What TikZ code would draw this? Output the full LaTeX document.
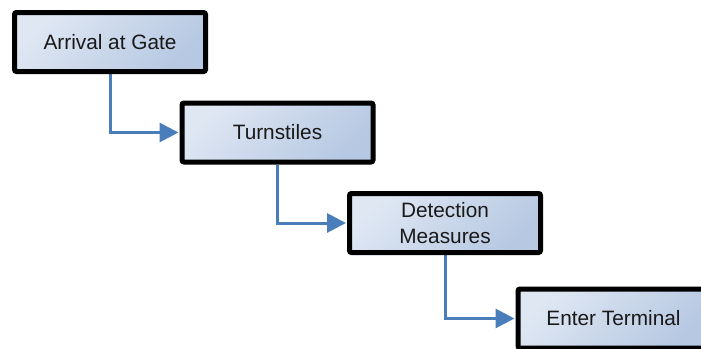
\documentclass[tikz,border=0pt]{standalone}
\usepackage{fontspec}
\setmainfont{Liberation Sans}
\usetikzlibrary{arrows.meta,backgrounds}
\definecolor{boxlight}{HTML}{DFE7F3}
\definecolor{boxdark}{HTML}{B6C8E2}
\definecolor{linkblue}{HTML}{4A7EBB}
\tikzset{
  stepbox/.style={draw=black, line width=5pt, rounded corners=2pt,
    minimum width=191pt, minimum height=59pt, inner sep=0pt,
    top color=boxlight, bottom color=boxdark, shading angle=45,
    font=\fontsize{20.8pt}{26pt}\selectfont, align=center, text=black!90},
  link/.style={draw=linkblue, line width=3pt,
    -{Triangle[length=19pt,width=19pt]}, shorten >=1pt}
}
\begin{document}
\begin{tikzpicture}[x=1pt,y=-1pt]
\useasboundingbox (0,0) rectangle (701,348);
\clip (0,0) rectangle (701,348);
\node[stepbox] (a) at (110,42) {Arrival at Gate};
\node[stepbox] (b) at (277.5,132.5) {Turnstiles};
\node[stepbox] (c) at (445,223) {Detection\\Measures};
\node[stepbox] (d) at (613.5,318.5) {Enter Terminal};
\begin{scope}[on background layer]
\draw[link] (a.south) |- (b.west);
\draw[link] (b.south) |- (c.west);
\draw[link] (c.south) |- (d.west);
\end{scope}
\end{tikzpicture}
\end{document}
